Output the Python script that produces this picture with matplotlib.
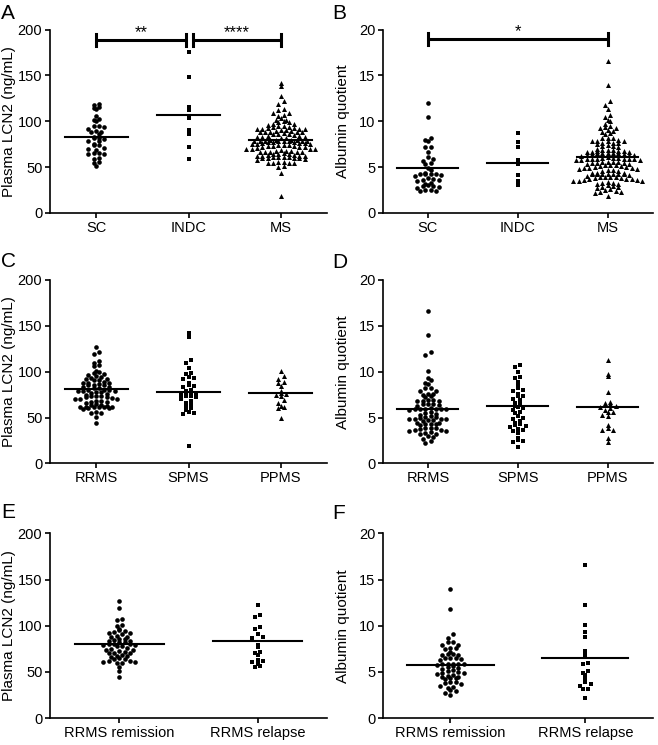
import numpy as np
import matplotlib
matplotlib.use("Agg")
import matplotlib.pyplot as plt

plt.rcParams['font.family'] = ['Liberation Sans', 'DejaVu Sans']

# plasma LCN2 (ng/mL)
sc_lcn2 = [119, 118, 115, 114, 113, 106, 102, 101, 100, 95, 95, 94, 92, 89, 88, 88, 86, 83, 82,
           82, 81, 79, 78, 75, 74, 74, 71, 70, 69, 65, 65, 64, 64, 60, 59, 56, 55, 51]
indc_lcn2 = [175, 148, 115, 112, 106, 104, 91, 86, 72, 59]
remission_lcn2 = [127, 119, 107, 106, 101, 100, 96, 95, 94, 93, 92, 92, 91, 89, 88, 88, 86, 86,
                  85, 83, 83, 82, 82, 80, 80, 80, 79, 79, 78, 78, 76, 75, 74, 74, 73, 72, 71, 70,
                  70, 68, 67, 67, 66, 65, 64, 64, 62, 62, 61, 61, 60, 60, 55, 51, 44]
relapse_lcn2 = [122, 112, 109, 99, 97, 91, 88, 87, 79, 77, 72, 70, 68, 63, 62, 61, 59, 56, 55]
spms_lcn2 = [142, 138, 113, 109, 104, 99, 97, 94, 93, 92, 88, 86, 84, 83, 80, 79, 78, 77, 76,
             75, 74, 73, 72, 70, 68, 66, 64, 62, 60, 58, 56, 55, 54, 19]
ppms_lcn2 = [101, 95, 92, 89, 88, 84, 79, 77, 76, 75, 73, 69, 66, 63, 61, 60, 50]
rrms_lcn2 = remission_lcn2 + relapse_lcn2
ms_lcn2 = rrms_lcn2 + spms_lcn2 + ppms_lcn2

# albumin quotient
sc_alb = [12.0, 10.5, 8.2, 8.0, 7.8, 7.2, 7.2, 6.6, 6.1, 5.9, 5.7, 5.5, 5.3, 4.9, 4.7, 4.4, 4.3,
          4.3, 4.2, 4.2, 4.1, 4.0, 3.8, 3.7, 3.6, 3.6, 3.5, 3.3, 3.2, 3.0, 2.9, 2.9, 2.8, 2.7,
          2.5, 2.5, 2.4, 2.4]
indc_alb = [8.7, 7.7, 7.2, 5.8, 5.3, 4.1, 3.5, 3.3, 3.0]
remission_alb = [14.0, 11.8, 9.1, 8.7, 8.2, 8.2, 7.9, 7.9, 7.6, 7.6, 7.5, 7.2, 6.9, 6.9, 6.8,
                 6.8, 6.5, 6.5, 6.5, 6.4, 6.3, 5.9, 5.9, 5.9, 5.9, 5.9, 5.8, 5.6, 5.5, 5.4, 5.3,
                 5.2, 5.1, 4.9, 4.9, 4.8, 4.7, 4.4, 4.4, 4.3, 4.3, 4.2, 3.9, 3.9, 3.8, 3.7, 3.5,
                 3.4, 3.3, 3.0, 2.9, 2.7, 2.5, 4.6, 5.0]
relapse_alb = [16.6, 12.2, 10.1, 9.3, 8.8, 7.3, 6.8, 6.0, 5.9, 5.1, 4.9, 4.7, 4.3, 3.9, 3.7,
               3.5, 3.2, 3.2, 2.2]
spms_alb = [10.7, 10.5, 10.0, 9.4, 9.3, 8.9, 8.6, 8.2, 8.0, 7.9, 7.6, 7.4, 7.3, 7.0, 6.9, 6.6,
            6.5, 6.3, 6.1, 6.0, 5.8, 5.6, 5.5, 5.2, 5.0, 4.8, 4.6, 4.4, 4.3, 4.2, 4.1, 4.0, 3.8,
            3.7, 3.5, 3.3, 2.8, 2.6, 2.4, 2.3, 1.8]
ppms_alb = [11.3, 9.7, 9.5, 7.8, 6.7, 6.6, 6.5, 6.4, 6.3, 6.2, 6.0, 5.8, 5.6, 5.6, 5.3, 5.2, 4.2,
            3.9, 3.6, 3.6, 2.8, 2.3]
rrms_alb = remission_alb + relapse_alb
ms_alb = rrms_alb + spms_alb + ppms_alb

# group lines as drawn in the figure
mean_A = [82.5, 106.5, 79.5]
mean_B = [4.9, 5.4, 6.1]
mean_C = [81.5, 78, 76.5]
mean_D = [5.9, 6.3, 6.2]
mean_E = [80, 83]
mean_F = [5.8, 6.5]

cats_ctrl = ["SC", "INDC", "MS"]
cats_type = ["RRMS", "SPMS", "PPMS"]
cats_rr = ["RRMS remission", "RRMS relapse"]
markers3 = ["o", "s", "^"]
markers2 = ["o", "s"]
msize = {"o": 11, "s": 10, "^": 13}


def swarm_x(ax, pos, vals, h=4.0, w=5.3):
    # prism style scatter: points binned in rows of h px, spread by w px
    vals = np.asarray(vals, float)
    o = ax.transData.transform([(0, 0), (1, 0), (0, 1)])
    sx = o[1, 0] - o[0, 0]
    sy = o[2, 1] - o[0, 1]
    rows = np.floor(vals * sy / h).astype(int)
    xs = np.zeros(len(vals))
    for r in np.unique(rows):
        idx = np.where(rows == r)[0]
        idx = idx[np.argsort(vals[idx])]
        n = len(idx)
        # alternate left/right so that the row is not sorted by value
        order = np.concatenate([idx[0::2], idx[1::2][::-1]])
        xs[order] = (np.arange(n) - (n - 1) / 2) * w
    return pos + xs / sx


def panel(rect, groups, cats, markers, means, ymax, ylabel, half, labx):
    ax = fig.add_axes(rect)
    n = len(cats)
    ax.set_xlim(-0.5, n - 0.5)
    ax.set_ylim(0, ymax)
    for i in range(n):
        x = swarm_x(ax, i, groups[i])
        m = markers[i]
        ax.scatter(x, groups[i], s=msize[m], marker=m, c="black", linewidths=0, zorder=3)
        ax.plot([i - half, i + half], [means[i], means[i]], color="black", lw=1.5, zorder=4)
    ax.set_xticks(range(n))
    ax.set_xticklabels(cats)
    ax.set_yticks(np.linspace(0, ymax, 5))
    ax.spines["top"].set_visible(False)
    ax.spines["right"].set_visible(False)
    for s in ["left", "bottom"]:
        ax.spines[s].set_linewidth(1.2)
    ax.tick_params(direction="out", length=3.5, width=1.2, labelsize=10.5, pad=2)
    ax.set_ylabel(ylabel, fontsize=11)
    ax.yaxis.set_label_coords(labx, 0.5)
    return ax


def bracket(ax, x0, x1, y, h, txt, ty):
    ax.plot([x0, x1], [y, y], color="black", lw=2.2, solid_capstyle="butt", zorder=5)
    ax.plot([x0, x0], [y - h, y + h], color="black", lw=2.2, zorder=5)
    ax.plot([x1, x1], [y - h, y + h], color="black", lw=2.2, zorder=5)
    ax.text((x0 + x1) / 2, ty, txt, ha="center", va="center", fontsize=12)


fig = plt.figure(figsize=(6.58, 7.45), dpi=100)

L = [0.076, 0.421]
R = [0.582, 0.410]
rows = [(0.7141, 0.2463), (0.3779, 0.2463), (0.0362, 0.2477)]
lcn2_label = "Plasma LCN2 (ng/mL)"
alb_label = "Albumin quotient"

axA = panel([L[0], rows[0][0], L[1], rows[0][1]], [sc_lcn2, indc_lcn2, ms_lcn2],
            cats_ctrl, markers3, mean_A, 200, lcn2_label, 0.34, -0.123)
bracket(axA, 0, 0.97, 189, 6.5, "**", 197)
bracket(axA, 1.05, 2, 189, 6.5, "****", 197)

axB = panel([R[0], rows[0][0], R[1], rows[0][1]], [sc_alb, indc_alb, ms_alb],
            cats_ctrl, markers3, mean_B, 20, alb_label, 0.34, -0.122)
bracket(axB, 0, 2, 19.0, 0.65, "*", 19.8)

panel([L[0], rows[1][0], L[1], rows[1][1]], [rrms_lcn2, spms_lcn2, ppms_lcn2],
      cats_type, markers3, mean_C, 200, lcn2_label, 0.34, -0.123)
panel([R[0], rows[1][0], R[1], rows[1][1]], [rrms_alb, spms_alb, ppms_alb],
      cats_type, markers3, mean_D, 20, alb_label, 0.34, -0.122)
panel([L[0], rows[2][0], L[1], rows[2][1]], [remission_lcn2, relapse_lcn2],
      cats_rr, markers2, mean_E, 200, lcn2_label, 0.32, -0.123)
panel([R[0], rows[2][0], R[1], rows[2][1]], [remission_alb, relapse_alb],
      cats_rr, markers2, mean_F, 20, alb_label, 0.32, -0.122)

letters = [("A", 0.002, 0.995), ("B", 0.505, 0.995), ("C", 0.002, 0.662),
           ("D", 0.505, 0.660), ("E", 0.002, 0.325), ("F", 0.505, 0.323)]
for t, x, y in letters:
    fig.text(x, y, t, fontsize=15, va="top", ha="left")

fig.savefig("out.png", dpi=100)
